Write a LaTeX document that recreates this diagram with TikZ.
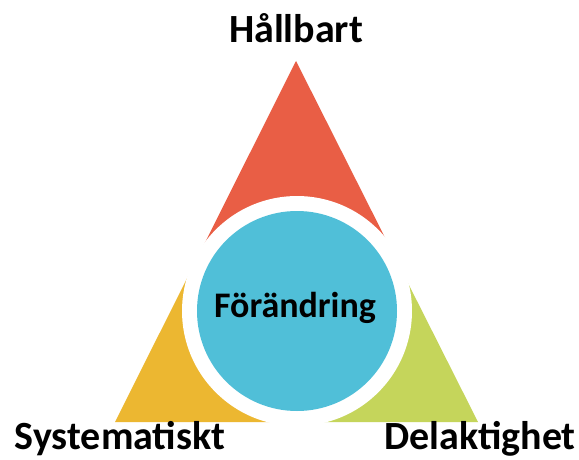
\documentclass[tikz,border=0pt]{standalone}
\usepackage{fontspec}
\setmainfont{Carlito}
\usetikzlibrary{calc}
\definecolor{cred}{HTML}{E95E45}
\definecolor{cyel}{HTML}{ECB731}
\definecolor{cgrn}{HTML}{C5D55B}
\definecolor{cblu}{HTML}{50BFD8}
\begin{document}
\begin{tikzpicture}[x=1pt,y=1pt,
  lbl/.style={font=\fontsize{40}{44}\selectfont\bfseries, text=black, inner sep=0pt, anchor=base},
  clbl/.style={font=\fontsize{36}{40}\selectfont\bfseries, text=black, inner sep=0pt, anchor=base}]
\useasboundingbox (0,0) rectangle (579,459);
\fill[white] (0,0) rectangle (579,459);
\coordinate (A) at (296,398);
\coordinate (L) at (115,37);
\coordinate (R) at (478,37);
\coordinate (C) at (297,148);
\coordinate (ML) at ($(A)!0.55!(L)$);
\coordinate (MR) at ($(A)!0.55!(R)$);
\coordinate (MB) at ($(L)!0.5!(R)$);
\fill[cred] (A) -- (ML) -- (C) -- (MR) -- cycle;
\fill[cyel] (ML) -- (L) -- (MB) -- (C) -- cycle;
\fill[cgrn] (MR) -- (R) -- (MB) -- (C) -- cycle;
\fill[white] (C) circle (115);
\node[circle, fill=cblu, minimum size=200pt, inner sep=0pt] (circ) at (C) {};
\node[clbl] (f) at (295,142) {Förändring};
\node[lbl] (h) at (296,416) {Hållbart};
\node[lbl] (s) at (120,10) {Systematiskt};
\node[lbl] (d) at (480,10) {Delaktighet};
\end{tikzpicture}
\end{document}
